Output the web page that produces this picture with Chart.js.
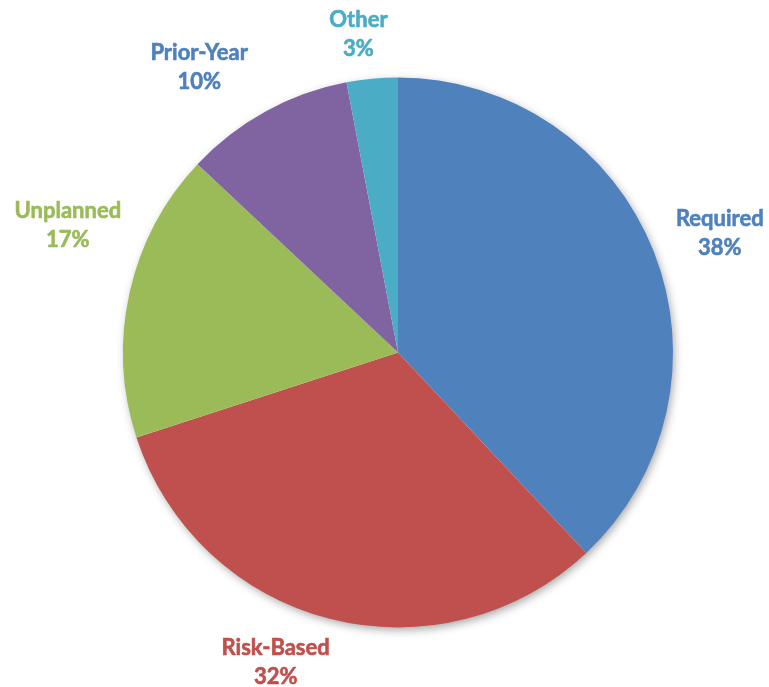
<!DOCTYPE html>
<html>
<head>
<meta charset="utf-8">
<script src="https://cdn.jsdelivr.net/npm/chart.js@4.4.1/dist/chart.umd.min.js"></script>
<style>
  html, body { margin: 0; padding: 0; background: #ffffff; }
  #wrap { width: 769px; height: 687px; position: relative; }
</style>
</head>
<body>
<div id="wrap"><canvas id="c" width="769" height="687"></canvas></div>
<script>
// Audit workload split by category (percent of total)
const categories = ['Required', 'Risk-Based', 'Unplanned', 'Prior-Year', 'Other'];
const shares = [38, 32, 17, 10, 3];

const sliceColors = ['#4F81BD', '#C0504D', '#9BBB59', '#8064A2', '#4BACC6'];
const labelColors = ['#4F81BD', '#C0504D', '#9BBB59', '#4F81BD', '#4BACC6'];

// Soft drop shadow drawn under the whole pie
const pieShadow = {
  id: 'pieShadow',
  beforeDatasetsDraw(chart) {
    const arc = chart.getDatasetMeta(0).data[0];
    if (!arc) return;
    const { x, y, outerRadius } = arc.getProps(['x', 'y', 'outerRadius'], true);
    const ctx = chart.ctx;
    ctx.save();
    ctx.shadowColor = 'rgba(0,0,0,0.38)';
    ctx.shadowBlur = 10;
    ctx.shadowOffsetX = 2;
    ctx.shadowOffsetY = 3;
    ctx.fillStyle = '#ffffff';
    ctx.beginPath();
    ctx.arc(x, y, outerRadius - 1, 0, Math.PI * 2);
    ctx.fill();
    ctx.restore();
  }
};

// Two-line category / percent labels outside each slice
const sliceLabels = {
  id: 'sliceLabels',
  afterDatasetsDraw(chart, args, opts) {
    const ctx = chart.ctx;
    const meta = chart.getDatasetMeta(0);
    const values = chart.data.datasets[0].data;
    ctx.save();
    ctx.font = opts.font;
    ctx.textAlign = 'center';
    ctx.textBaseline = 'alphabetic';
    ctx.lineJoin = 'round';
    ctx.lineWidth = opts.weightStroke;
    meta.data.forEach((arc, i) => {
      const p = arc.getProps(['x', 'y', 'startAngle', 'endAngle', 'outerRadius'], true);
      const mid = (p.startAngle + p.endAngle) / 2;
      const c = Math.cos(mid), s = Math.sin(mid);
      const lines = [chart.data.labels[i], values[i] + '%'];
      const w = Math.max(...lines.map(t => ctx.measureText(t).width));
      const h = opts.capHeight + opts.lineHeight;
      const ax = p.x + (p.outerRadius + opts.gap) * c;
      const ay = p.y + (p.outerRadius + opts.gap) * s;
      const nudge = opts.nudges[i] || [0, 0];
      const cx = ax + c * w / 2 + nudge[0];
      const cy = ay + s * h / 2 + nudge[1];
      const top = cy - h / 2;
      ctx.fillStyle = opts.colors[i];
      ctx.strokeStyle = opts.colors[i];
      lines.forEach((t, k) => {
        const by = top + opts.capHeight + k * opts.lineHeight;
        ctx.fillText(t, cx, by);
        ctx.strokeText(t, cx, by);
      });
    });
    ctx.restore();
  }
};

new Chart(document.getElementById('c'), {
  type: 'pie',
  data: {
    labels: categories,
    datasets: [{
      data: shares,
      backgroundColor: sliceColors,
      borderWidth: 0,
      hoverOffset: 0
    }]
  },
  options: {
    responsive: false,
    animation: false,
    radius: 275,
    layout: { padding: { left: 120, right: 93, top: 70, bottom: 52 } },
    plugins: {
      legend: { display: false },
      tooltip: { enabled: false },
      sliceLabels: {
        font: 'bold 22px Lato',
        colors: labelColors,
        capHeight: 16,
        lineHeight: 29,
        gap: 10,
        weightStroke: 0.6,
        nudges: [[16, -7], [-38, 11], [0, -61], [-38, -17], [-10, -13]]
      }
    }
  },
  plugins: [pieShadow, sliceLabels]
});
</script>
</body>
</html>
